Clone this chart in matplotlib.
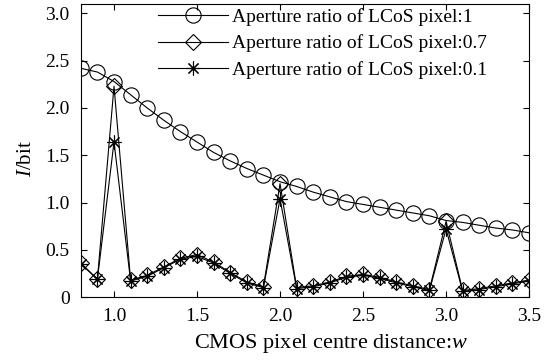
import matplotlib
matplotlib.use("Agg")
import matplotlib.pyplot as plt

# CMOS pixel centre distance w
w = [0.8, 0.9, 1.0, 1.1, 1.2, 1.3, 1.4, 1.5, 1.6, 1.7, 1.8, 1.9, 2.0, 2.1,
     2.2, 2.3, 2.4, 2.5, 2.6, 2.7, 2.8, 2.9, 3.0, 3.1, 3.2, 3.3, 3.4, 3.5]

# aperture ratio 1
info_1 = [2.42, 2.38, 2.28, 2.14, 2.00, 1.87, 1.75, 1.64, 1.53, 1.44, 1.36, 1.29, 1.22, 1.17,
          1.11, 1.06, 1.01, 0.98, 0.95, 0.92, 0.89, 0.86, 0.81, 0.79, 0.76, 0.73, 0.71, 0.68]

# aperture ratio 0.7
info_07 = [0.36, 0.19, 2.23, 0.18, 0.23, 0.32, 0.41, 0.45, 0.37, 0.26, 0.16, 0.11, 1.20, 0.10,
           0.12, 0.16, 0.22, 0.24, 0.21, 0.16, 0.12, 0.08, 0.80, 0.07, 0.09, 0.12, 0.15, 0.18]

# aperture ratio 0.1
info_01 = [0.35, 0.19, 1.64, 0.17, 0.22, 0.31, 0.40, 0.43, 0.36, 0.25, 0.15, 0.10, 1.04, 0.09,
           0.11, 0.15, 0.21, 0.23, 0.20, 0.15, 0.11, 0.07, 0.72, 0.06, 0.08, 0.11, 0.14, 0.17]

labels = ['Aperture ratio of LCoS pixel:1',
          'Aperture ratio of LCoS pixel:0.7',
          'Aperture ratio of LCoS pixel:0.1']

plt.rcParams['font.family'] = 'Liberation Serif'
plt.rcParams['mathtext.fontset'] = 'custom'
plt.rcParams['mathtext.rm'] = 'Liberation Serif'
plt.rcParams['mathtext.it'] = 'Liberation Serif:italic'
plt.rcParams['font.size'] = 14

fig = plt.figure(figsize=(5.46, 3.61), dpi=100)
ax = fig.add_axes([0.148, 0.177, 0.821, 0.812])

ax.plot(w, info_1, 'k-', lw=0.8, marker='o', ms=11, mfc='none', mew=0.8, label=labels[0])
ax.plot(w, info_07, 'k-', lw=0.8, marker='D', ms=8, mfc='none', mew=0.8, label=labels[1])
ax.plot(w, info_01, 'k-', lw=0.8, marker=(8, 2, 0), ms=10, mew=0.8, label=labels[2])

ax.set_xlim(0.8, 3.5)
ax.set_ylim(0, 3.1)
ax.set_xticks([1.0, 1.5, 2.0, 2.5, 3.0, 3.5])
ax.set_xticklabels(['1.0', '1.5', '2.0', '2.5', '3.0', '3.5'])
ax.set_yticks([0, 0.5, 1.0, 1.5, 2.0, 2.5, 3.0])
ax.set_yticklabels(['0', '0.5', '1.0', '1.5', '2.0', '2.5', '3.0'])
ax.tick_params(direction='in', top=True, right=True, length=4, width=0.8, labelsize=14)
ax.tick_params(axis='x', pad=8)
ax.tick_params(axis='y', pad=8)
for sp in ax.spines.values():
    sp.set_linewidth(0.8)

ax.set_xlabel('CMOS pixel centre distance:$\\mathit{w}$', fontsize=16, labelpad=5, x=0.559)
ax.set_ylabel('$\\mathit{I}$/bit', fontsize=15, labelpad=7, y=0.474)

ax.legend(loc='upper right', bbox_to_anchor=(0.915, 1.0), frameon=False,
          handlelength=3.6, labelspacing=0.45, fontsize=14, borderaxespad=0,
          borderpad=0.2, handletextpad=0.2)

fig.savefig('out.png', dpi=100)
